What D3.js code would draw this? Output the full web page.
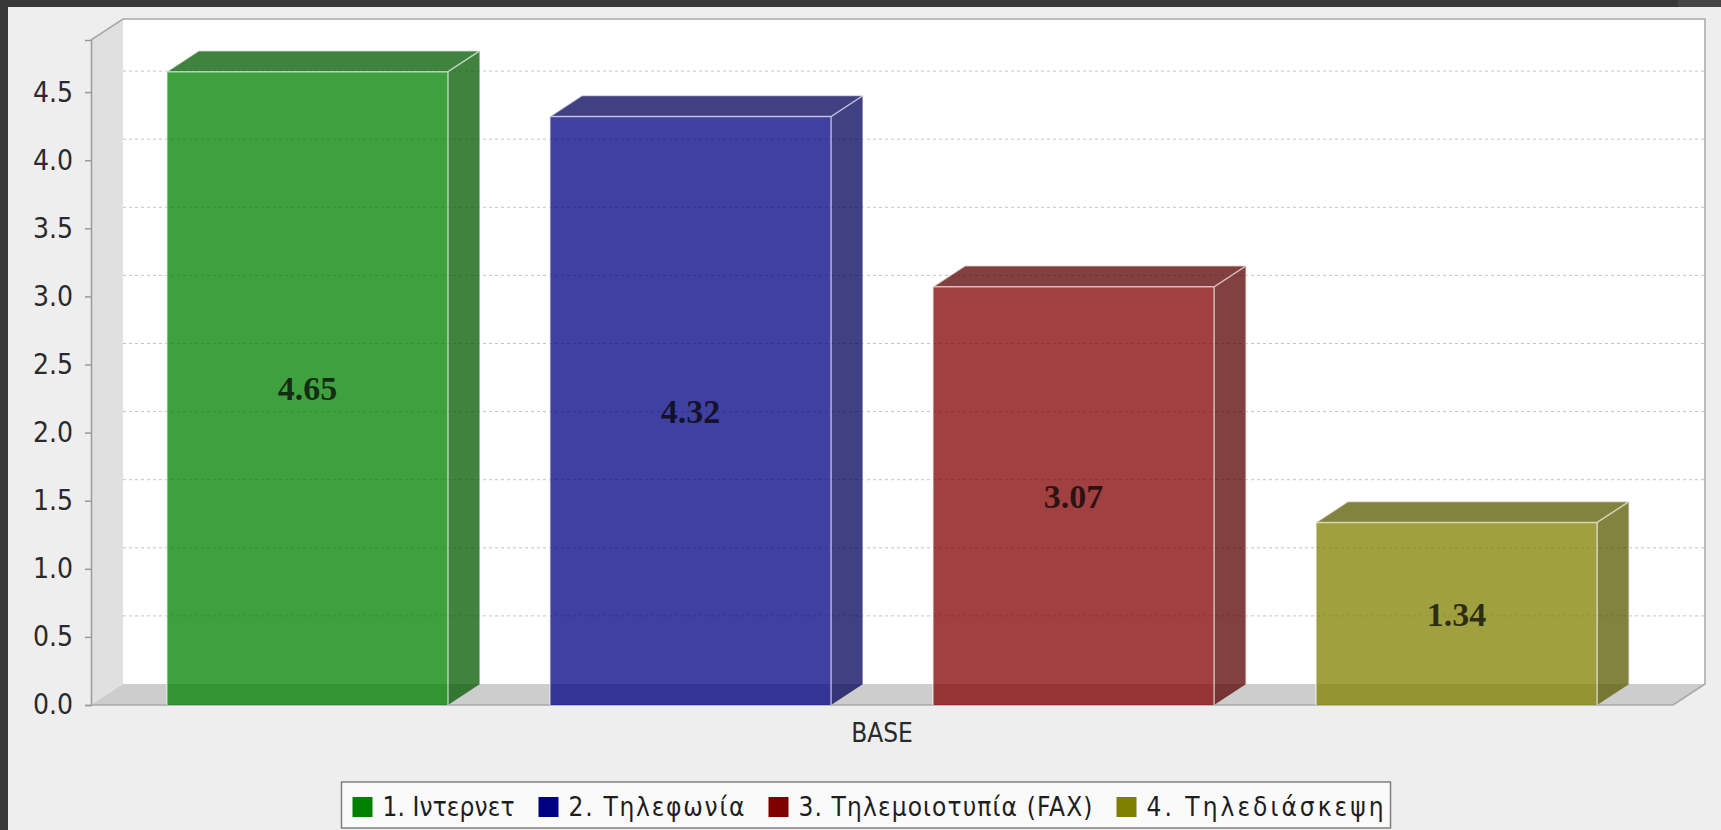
<!DOCTYPE html>
<html>
<head>
<meta charset="utf-8">
<script src="https://cdn.jsdelivr.net/npm/d3@7"></script>
<style>
  html, body { margin: 0; padding: 0; background: #eeeeee; overflow: hidden; }
  svg { display: block; }
  .sans { font-family: "DejaVu Sans Condensed", "DejaVu Sans", sans-serif; font-stretch: condensed; }
</style>
</head>
<body>
<svg id="chart" width="1721" height="830"></svg>
<script>
// ---- Data ----
const categories = ["BASE"];
const seriesNames = ["1. Ιντερνετ", "2. Τηλεφωνία", "3. Τηλεμοιοτυπία (FAX)", "4. Τηλεδιάσκεψη"];
const seriesValues = [4.65, 4.32, 3.07, 1.34];
const seriesColors = ["#008000", "#000080", "#800000", "#808000"];
const yTickValues = [0, 0.5, 1.0, 1.5, 2.0, 2.5, 3.0, 3.5, 4.0, 4.5];

// ---- Layout / style ----
const legendTextLengths = [132, 176, 294, 237];
const W = 1721, H = 830;
const plotLeft = 91, plotRight = 1673, floorY = 705, axisTop = 40;
const dx = 32, dy = 21;
const svg = d3.select("#chart");

// frame
svg.append("rect").attr("x", 0).attr("y", 0).attr("width", W).attr("height", H).attr("fill", "#eeeeee");
svg.append("rect").attr("x", 0).attr("y", 0).attr("width", W).attr("height", 7).attr("fill", "#383838");
svg.append("rect").attr("x", 1678).attr("y", 0).attr("width", W - 1678).attr("height", 7).attr("fill", "#464646");
svg.append("rect").attr("x", 0).attr("y", 0).attr("width", 8).attr("height", H).attr("fill", "#383838");

const y = d3.scaleLinear().domain([0, 4.8825]).range([floorY, axisTop]);
const x = d3.scaleBand().domain(seriesNames).range([plotLeft, plotRight]).paddingInner(0.266).paddingOuter(0.198);

// back wall
svg.append("rect").attr("x", plotLeft + dx).attr("y", axisTop - dy).attr("width", plotRight - plotLeft)
  .attr("height", floorY - axisTop).attr("fill", "#ffffff");
// left wall
svg.append("polygon").attr("points", [[plotLeft, axisTop], [plotLeft + dx, axisTop - dy], [plotLeft + dx, floorY - dy], [plotLeft, floorY]].join(" "))
  .attr("fill", "#e0e0e0");
// floor
svg.append("polygon").attr("points", [[plotLeft, floorY], [plotLeft + dx, floorY - dy], [plotRight + dx, floorY - dy], [plotRight, floorY]].join(" "))
  .attr("fill", "#cdcdcd");

// gridlines on back wall
svg.append("g").selectAll("line").data(yTickValues.filter(v => v > 0)).join("line")
  .attr("x1", plotLeft + dx).attr("x2", plotRight + dx)
  .attr("y1", d => y(d) - dy).attr("y2", d => y(d) - dy)
  .attr("stroke", "#c4c4c4").attr("stroke-width", 1).attr("stroke-dasharray", "3,3");

// outlines
const outline = svg.append("g").attr("fill", "none").attr("stroke", "#a8a8a8").attr("stroke-width", 1.5);
outline.append("path").attr("d", `M${plotLeft},${axisTop} L${plotLeft + dx},${axisTop - dy} L${plotRight + dx},${axisTop - dy} L${plotRight + dx},${floorY - dy} L${plotRight},${floorY}`);

// y axis
const yAxis = d3.axisLeft(y).tickValues(yTickValues).tickFormat(d3.format(".1f")).tickSize(6).tickPadding(12);
const gy = svg.append("g").attr("class", "sans").attr("transform", `translate(${plotLeft},0)`).call(yAxis);
gy.attr("font-family", null);
gy.select(".domain").attr("stroke", "#9a9a9a").attr("stroke-width", 1.5);
gy.selectAll(".tick line").attr("stroke", "#9a9a9a").attr("stroke-width", 1.5);
gy.selectAll(".tick text").attr("font-size", 28).attr("fill", "#2a2a2a");
// floor front edge
svg.append("line").attr("x1", plotLeft).attr("x2", plotRight).attr("y1", floorY).attr("y2", floorY)
  .attr("stroke", "#a8a8a8").attr("stroke-width", 1.5);

// bars
const bars = svg.append("g").selectAll("g").data(seriesNames.map((n, i) => ({ n, v: seriesValues[i], c: seriesColors[i] }))).join("g");
bars.each(function (d) {
  const g = d3.select(this);
  const x0 = x(d.n), x1 = x0 + x.bandwidth(), y0 = y(d.v), yb = y(0);
  const dark = d3.rgb(d.c).darker(1).formatHex();
  g.append("rect").attr("x", x0).attr("y", y0).attr("width", x1 - x0).attr("height", yb - y0)
    .attr("fill", d.c).attr("fill-opacity", 0.75);
  g.append("polygon").attr("points", [[x0, y0], [x0 + dx, y0 - dy], [x1 + dx, y0 - dy], [x1, y0]].join(" "))
    .attr("fill", dark).attr("fill-opacity", 0.75);
  g.append("polygon").attr("points", [[x1, y0], [x1 + dx, y0 - dy], [x1 + dx, yb - dy], [x1, yb]].join(" "))
    .attr("fill", dark).attr("fill-opacity", 0.75);
  const st = "rgba(255,255,255,0.6)";
  g.append("path").attr("d", `M${x0},${yb} L${x0},${y0} L${x1},${y0} L${x1},${yb} M${x0},${y0} L${x0 + dx},${y0 - dy} L${x1 + dx},${y0 - dy} L${x1},${y0} M${x1 + dx},${y0 - dy} L${x1 + dx},${yb - dy}`)
    .attr("fill", "none").attr("stroke", st).attr("stroke-width", 1.5);
  g.append("text").attr("x", (x0 + x1) / 2).attr("y", (y0 + yb) / 2).attr("dy", "0.35em")
    .attr("text-anchor", "middle").attr("font-family", "'Liberation Serif', serif").attr("font-weight", "bold")
    .attr("font-size", 34).attr("fill", "#000").attr("fill-opacity", 0.72).text(d3.format(".2f")(d.v));
});

// category label
svg.append("text").attr("class", "sans").attr("x", (plotLeft + plotRight) / 2).attr("y", 733).attr("dy", "0.35em")
  .attr("text-anchor", "middle").attr("font-size", 26).attr("fill", "#2a2a2a").text(categories[0]);

// legend
const legendCenter = 866, legTop = 782, legH = 46, sq = 20, gap = 24;
const lg = svg.append("g").attr("class", "sans");
const box = lg.append("rect").attr("y", legTop).attr("height", legH).attr("fill", "#fafafa")
  .attr("stroke", "#808080").attr("stroke-width", 1.5);
let cx = 0;
const items = [];
seriesNames.forEach((n, i) => {
  const it = lg.append("g");
  it.append("rect").attr("x", 0).attr("y", legTop + 15).attr("width", sq).attr("height", sq).attr("fill", seriesColors[i]);
  it.append("text").attr("x", sq + 10).attr("y", legTop + 25).attr("dy", "0.35em")
    .attr("font-size", 26).attr("fill", "#1e1e1e")
    .attr("textLength", legendTextLengths[i]).attr("lengthAdjust", "spacing").text(n);
  items.push({ it, off: cx });
  cx += sq + 10 + legendTextLengths[i] + gap;
});
const contentW = cx - gap;
const boxW = contentW + 11 + 7;
const boxX = legendCenter - boxW / 2;
box.attr("x", boxX).attr("width", boxW);
items.forEach(o => o.it.attr("transform", `translate(${boxX + 11 + o.off},0)`));
</script>
</body>
</html>
